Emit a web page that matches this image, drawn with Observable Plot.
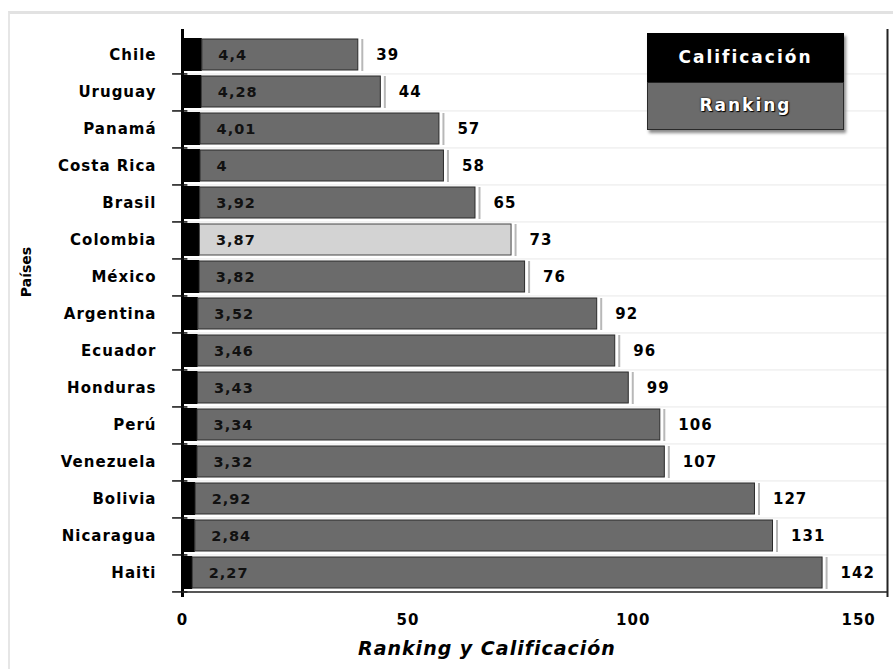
<!DOCTYPE html>
<html>
<head>
<meta charset="utf-8">
<script src="https://cdn.jsdelivr.net/npm/d3@7"></script>
<script src="https://cdn.jsdelivr.net/npm/@observablehq/plot@0.6"></script>
<style>
  html, body { margin: 0; padding: 0; background: #fff; }
  #wrap { position: relative; width: 893px; height: 669px; overflow: hidden; font-family: "DejaVu Sans", sans-serif; }
  #frame { position: absolute; left: 8px; top: 11px; right: -5px; bottom: -5px; border-top: 3px solid #e2e2e2; border-left: 2px solid #e6e6e6; pointer-events: none; }
  #legend { position: absolute; left: 647px; top: 33px; width: 197px; box-shadow: 2px 3px 3px #8a8a8a; font-weight: bold; color: #fff; text-align: center; letter-spacing: 2px; font-size: 17px; }
  #legend .cal { background: #000; height: 49px; line-height: 49px; }
  #legend .rank { background: #6b6b6b; line-height: 44px; border: 1px solid #2a2a2a; border-top: 1px solid #222; box-sizing: border-box; height: 48px; text-shadow: 0 0 2px #000, 1px 1px 1px #000; }
  #xlabel { position: absolute; left: 358px; top: 637px; font-size: 19px; font-weight: bold; font-style: italic; letter-spacing: 1px; color: #000; white-space: nowrap; }
  #ylabel { position: absolute; left: 26px; top: 272px; font-size: 14px; font-weight: bold; color: #000; transform: translate(-50%, -50%) rotate(-90deg); white-space: nowrap; }
</style>
</head>
<body>
<div id="wrap">
  <div id="chart"></div>
  <div id="frame"></div>
  <div id="legend"><div class="cal">Calificación</div><div class="rank">Ranking</div></div>
  <div id="xlabel">Ranking y Calificación</div>
  <div id="ylabel">Países</div>
</div>
<script>
const countries = ["Chile","Uruguay","Panamá","Costa Rica","Brasil","Colombia","México","Argentina","Ecuador","Honduras","Perú","Venezuela","Bolivia","Nicaragua","Haiti"];
const calificacion = [4.4, 4.28, 4.01, 4, 3.92, 3.87, 3.82, 3.52, 3.46, 3.43, 3.34, 3.32, 2.92, 2.84, 2.27];
const ranking = [39, 44, 57, 58, 65, 73, 76, 92, 96, 99, 106, 107, 127, 131, 142];
const highlight = ["Colombia"];
const xTicks = [0, 50, 100, 150];
const xMax = 156.4;

const data = countries.map((c, i) => ({country: c, cal: calificacion[i], rank: ranking[i]}));
const fmt = v => String(v).replace(".", ",");

const W = 893, H = 669, mT = 29, mB = 72, mL = 182, mR = 6;
const step = (H - mT - mB) / countries.length;

const chart = Plot.plot({
  width: W, height: H,
  marginTop: mT, marginBottom: mB, marginLeft: mL, marginRight: mR,
  style: {fontFamily: "DejaVu Sans", fontSize: "15px", fontWeight: "bold", letterSpacing: "1px", color: "#000", background: "transparent", overflow: "visible"},
  x: {domain: [0, xMax], ticks: xTicks, tickSize: 0, tickPadding: 17, label: null},
  y: {domain: countries, padding: 0, tickSize: 0, tickPadding: 26, label: null},
  marks: [
    Plot.ruleY(countries, {y: d => d, dy: step / 2, x1: 0, x2: xMax, stroke: "#e8e8e8", strokeWidth: 1}),
    Plot.tickX(data, {x: "rank", y: "country", dx: 4, stroke: "#b8b8b8", strokeWidth: 2, insetTop: 3, insetBottom: 2}),
    Plot.barX(data, {x1: 0, x2: "cal", y: "country", fill: "#000", insetTop: 2, insetBottom: 2}),
    Plot.barX(data.filter(d => !highlight.includes(d.country)), {x1: "cal", x2: "rank", y: "country", fill: "#6b6b6b", stroke: "#2a2a2a", strokeWidth: 1, insetTop: 3, insetBottom: 3}),
    Plot.barX(data.filter(d => highlight.includes(d.country)), {x1: "cal", x2: "rank", y: "country", fill: "#d3d3d3", stroke: "#444", strokeWidth: 1, insetTop: 3, insetBottom: 3}),
    Plot.ruleX([0], {stroke: "#000", strokeWidth: 3}),
    Plot.ruleY(countries, {y: d => d, dy: step / 2, x1: -2.2, x2: 1.2, stroke: "#111", strokeWidth: 1.5}),
    Plot.ruleY(countries.slice(-1), {y: d => d, dy: step / 2, x1: 0, x2: xMax, stroke: "#222", strokeWidth: 1.5}),
    Plot.ruleX([xMax], {stroke: "#222", strokeWidth: 2}),
    Plot.text(data, {x: "cal", y: "country", text: d => fmt(d.cal), dx: 16, textAnchor: "start", fill: "#111", fontSize: 14.5}),
    Plot.text(data, {x: "rank", y: "country", text: d => String(d.rank), dx: 18, textAnchor: "start", fill: "#000", fontSize: 15})
  ]
});
document.getElementById("chart").appendChild(chart);
</script>
</body>
</html>
